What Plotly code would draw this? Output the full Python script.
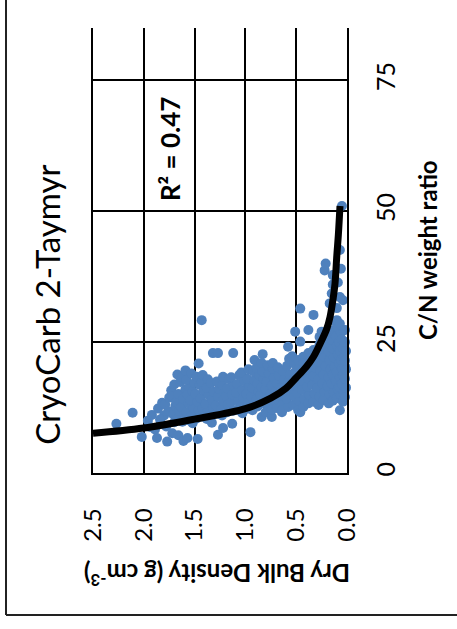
import plotly.graph_objects as go

# Dry bulk density (g cm-3) of each sample
bulk_density = [
    2.27, 2.11, 2.02, 1.94, 1.92, 1.96,
    1.87, 1.89, 1.86, 1.82, 1.83, 1.80, 1.84,
    1.77, 1.78, 1.76, 1.79, 1.75, 1.73,
    1.72, 1.70, 1.71, 1.69, 1.72, 1.70,
    1.66, 1.67, 1.65, 1.68, 1.66, 1.64, 1.67,
    1.61, 1.62, 1.60, 1.63, 1.61, 1.59, 1.62,
    1.57, 1.56, 1.58, 1.56, 1.57, 1.55, 1.58, 1.59,
    1.52, 1.53, 1.51, 1.54, 1.52, 1.50, 1.53,
    1.47, 1.48, 1.46, 1.47, 1.49, 1.45, 1.48, 1.46,
    1.43, 1.42, 1.44, 1.41, 1.43, 1.42, 1.43,
    1.38, 1.37, 1.39, 1.36, 1.38, 1.37,
    1.33, 1.34, 1.32, 1.33, 1.31, 1.34, 1.32,
    1.27, 1.28, 1.29, 1.27, 1.26, 1.28, 1.27,
    1.22, 1.23, 1.24, 1.22, 1.21, 1.23, 1.22,
    1.18, 1.17, 1.19, 1.18, 1.16,
    1.13, 1.12, 1.14, 1.13, 1.11, 1.14, 1.12,
    1.08, 1.07, 1.09, 1.08, 1.06,
    1.03, 1.04, 1.02, 1.03, 1.01, 1.04,
    0.98, 0.97, 0.99, 0.96, 0.98, 0.97, 0.95,
    0.93, 0.92, 0.94, 0.93, 0.91, 0.92, 0.91,
    0.88, 0.89, 0.87, 0.88, 0.86, 0.89,
    0.84, 0.83, 0.85, 0.84, 0.82, 0.83, 0.84, 0.83,
    0.79, 0.78, 0.80, 0.79, 0.77, 0.78, 0.80,
    0.74, 0.73, 0.75, 0.74, 0.72, 0.73, 0.74, 0.73,
    0.69, 0.68, 0.70, 0.69, 0.67, 0.68,
    0.64, 0.63, 0.65, 0.64, 0.62, 0.63, 0.64,
    0.58, 0.59, 0.57, 0.58, 0.56, 0.59, 0.57, 0.58,
    0.53, 0.52, 0.54, 0.53, 0.51, 0.52, 0.54, 0.51,
    0.48, 0.47, 0.49, 0.48, 0.46, 0.47, 0.48, 0.46, 0.46, 0.46,
    0.43, 0.42, 0.44, 0.43, 0.41, 0.42, 0.43, 0.43,
    0.38, 0.37, 0.39, 0.38, 0.36, 0.37, 0.38, 0.38,
    0.33, 0.32, 0.34, 0.33, 0.31, 0.32, 0.33, 0.33,
    0.28, 0.27, 0.29, 0.28, 0.26, 0.27, 0.28, 0.27, 0.27,
    0.23, 0.22, 0.24, 0.23, 0.21, 0.22, 0.23, 0.24, 0.25, 0.22, 0.21,
    0.18, 0.17, 0.19, 0.18, 0.16, 0.17, 0.18, 0.19, 0.17, 0.17, 0.15,
    0.14, 0.13, 0.15, 0.14, 0.12, 0.13, 0.14, 0.15, 0.13, 0.12, 0.14, 0.14,
    0.10, 0.09, 0.11, 0.10, 0.08, 0.09, 0.10, 0.11, 0.09, 0.10, 0.09, 0.10,
    0.07, 0.06, 0.08, 0.07, 0.05, 0.06, 0.07, 0.08, 0.06, 0.07, 0.07, 0.07, 0.06,
    0.04, 0.03, 0.05, 0.04, 0.02, 0.03, 0.04, 0.05, 0.03, 0.04, 0.05,
    0.02, 0.01, 0.02, 0.01, 0.02, 0.01, 0.02, 0.02,
]

# C/N weight ratio of each sample (same order)
cn_ratio = [
    9.4, 11.5, 6.9, 8.8, 11.1, 10.0,
    6.7, 8.3, 12.3, 13.4, 9.5, 11.0, 10.2,
    6.0, 8.9, 11.8, 13.1, 14.4, 15.8,
    7.6, 9.7, 11.2, 12.8, 14.6, 16.9,
    7.2, 10.3, 11.8, 13.5, 15.1, 17.4, 18.8,
    6.1, 9.8, 11.2, 12.6, 14.2, 16.0, 18.3,
    6.7, 10.1, 11.6, 13.3, 15.0, 16.4, 17.8, 19.6,
    9.5, 10.9, 12.4, 13.9, 15.6, 17.2, 19.0,
    6.5, 10.4, 12.0, 13.6, 15.1, 16.8, 18.4, 20.9,
    10.8, 12.3, 14.3, 15.8, 17.4, 18.7, 29.2,
    10.3, 11.9, 13.2, 14.9, 16.3, 17.9,
    9.6, 10.9, 12.6, 14.0, 15.5, 17.2, 22.9,
    7.3, 11.3, 12.9, 14.6, 16.1, 17.5, 22.9,
    8.6, 11.0, 12.2, 13.8, 15.3, 16.8, 18.4,
    11.6, 13.1, 14.7, 16.2, 17.9,
    9.4, 11.9, 13.5, 15.0, 16.6, 18.3, 22.9,
    12.1, 13.8, 15.4, 17.0, 18.7,
    11.4, 12.8, 14.3, 15.8, 17.5, 19.2,
    12.3, 13.6, 15.1, 16.6, 18.0, 19.8, 7.8,
    12.0, 13.2, 14.6, 16.2, 17.7, 19.4, 21.6,
    12.7, 14.1, 15.6, 17.1, 18.6, 20.1,
    10.7, 13.4, 14.9, 16.4, 18.0, 19.4, 21.0, 22.7,
    12.9, 14.5, 16.0, 17.4, 19.0, 20.6, 11.6,
    10.7, 13.6, 15.2, 16.7, 18.3, 19.9, 12.1, 21.0,
    12.4, 14.0, 15.5, 17.1, 18.6, 20.2,
    11.6, 13.3, 14.8, 16.4, 17.9, 19.5, 12.0,
    12.6, 14.2, 15.7, 17.3, 18.8, 20.5, 21.8, 24.1,
    13.0, 14.6, 16.2, 17.7, 19.3, 20.9, 22.3, 27.0,
    12.0, 13.7, 15.3, 16.8, 18.4, 20.0, 21.6, 25.1, 31.4, 11.6,
    12.6, 14.2, 15.9, 17.5, 19.1, 20.6, 22.2, 21.0,
    13.3, 14.9, 16.5, 18.0, 19.6, 21.2, 22.9, 27.3,
    13.6, 15.2, 16.8, 18.5, 20.1, 21.7, 23.5, 30.2,
    13.0, 14.6, 16.3, 17.9, 19.5, 21.2, 22.8, 24.6, 26.0,
    13.9, 15.5, 17.1, 18.8, 20.4, 22.1, 23.7, 25.4, 27.0, 38.7, 40.0,
    13.3, 15.0, 16.6, 18.3, 19.9, 21.6, 23.2, 24.9, 26.5, 32.4, 34.3,
    13.8, 15.4, 17.1, 18.8, 20.4, 22.1, 23.8, 25.5, 27.3, 29.0, 37.8, 36.0,
    14.3, 16.0, 17.6, 19.3, 21.0, 22.7, 24.4, 26.1, 27.8, 29.2, 36.4, 31.5,
    12.0, 14.8, 16.5, 18.2, 19.9, 21.6, 23.3, 25.0, 26.8, 28.5, 33.6, 42.6, 39.0,
    13.6, 15.3, 17.0, 18.7, 20.4, 22.1, 23.8, 25.5, 27.3, 33.0, 51.0,
    14.5, 16.3, 18.0, 19.8, 21.5, 23.3, 25.0, 27.3,
]

# Power-law trend line
trend_density = [2.50, 2.00, 1.50, 1.00, 0.75, 0.60, 0.50, 0.40, 0.33, 0.25,
                 0.20, 0.167, 0.135, 0.118, 0.10, 0.085, 0.069]
trend_cn = [7.6, 8.6, 10.3, 12.3, 14.3, 16.2, 18.2, 20.3, 22.2, 25.3,
            27.5, 29.8, 33.5, 36.2, 41.6, 45.5, 51.0]

density_ticks = [0.0, 0.5, 1.0, 1.5, 2.0, 2.5]
density_labels = ["0.0", "0.5", "1.0", "1.5", "2.0", "2.5"]
cn_ticks = [0, 25, 50, 75]

FONT = "Lato"

fig = go.Figure()
fig.add_trace(go.Scatter(
    x=bulk_density, y=cn_ratio, mode="markers",
    marker=dict(size=10, color="#4F81BD"),
    cliponaxis=False, showlegend=False, hoverinfo="skip"))
fig.add_trace(go.Scatter(
    x=trend_density, y=trend_cn, mode="lines",
    line=dict(color="black", width=7, shape="spline"),
    showlegend=False, hoverinfo="skip"))

fig.update_layout(
    width=457, height=629,
    margin=dict(l=93, r=110, t=28, b=156, autoexpand=False),
    paper_bgcolor="white", plot_bgcolor="white",
    font=dict(family=FONT, color="black"),
    xaxis=dict(
        range=[2.5, 0], tickvals=density_ticks, ticktext=density_labels,
        tickangle=-90, tickfont=dict(size=24, family=FONT, color="black"),
        showgrid=True, gridcolor="black", gridwidth=1.5,
        showline=True, linecolor="black", linewidth=1.5,
        zeroline=False, ticks="", ticklabelstandoff=24, automargin=False),
    yaxis=dict(
        range=[0, 85], side="right", tickvals=cn_ticks,
        tickangle=-90, tickfont=dict(size=25, family=FONT, color="black"),
        showgrid=True, gridcolor="black", gridwidth=1.5,
        showline=True, mirror=True, linecolor="black", linewidth=1.5,
        zeroline=False, ticks="", ticklabelstandoff=16, automargin=False),
    annotations=[
        dict(text="CryoCarb 2-Taymyr", x=-0.182, y=0.3775, xref="paper", yref="paper",
             textangle=-90, showarrow=False, xanchor="center", yanchor="middle",
             font=dict(size=33, family=FONT, color="black")),
        dict(text="<b>R² = 0.47</b>", x=0.303, y=0.730, xref="paper", yref="paper",
             textangle=-90, showarrow=False, xanchor="center", yanchor="middle",
             font=dict(size=26, family=FONT, color="black")),
        dict(text="<b>C/N weight ratio</b>", x=1.315, y=0.501, xref="paper", yref="paper",
             textangle=-90, showarrow=False, xanchor="center", yanchor="middle",
             font=dict(size=24, family=FONT, color="black")),
        dict(text="<b>Dry Bulk Density (g cm<sup>-3</sup>)</b>", x=0.488, y=-0.229,
             xref="paper", yref="paper", textangle=180, showarrow=False,
             xanchor="center", yanchor="middle",
             font=dict(size=24, family=FONT, color="black")),
    ],
    shapes=[
        dict(type="line", xref="paper", yref="paper", x0=-0.3425, x1=-0.3425, y0=1.07, y1=-0.319,
             line=dict(color="#222222", width=2)),
        dict(type="line", xref="paper", yref="paper", x0=-0.3425, x1=1.44, y0=-0.319, y1=-0.319,
             line=dict(color="#222222", width=2)),
    ],
)

fig.write_html("out.html", config={"displayModeBar": False},
               post_script="document.body.style.margin='0px';")
